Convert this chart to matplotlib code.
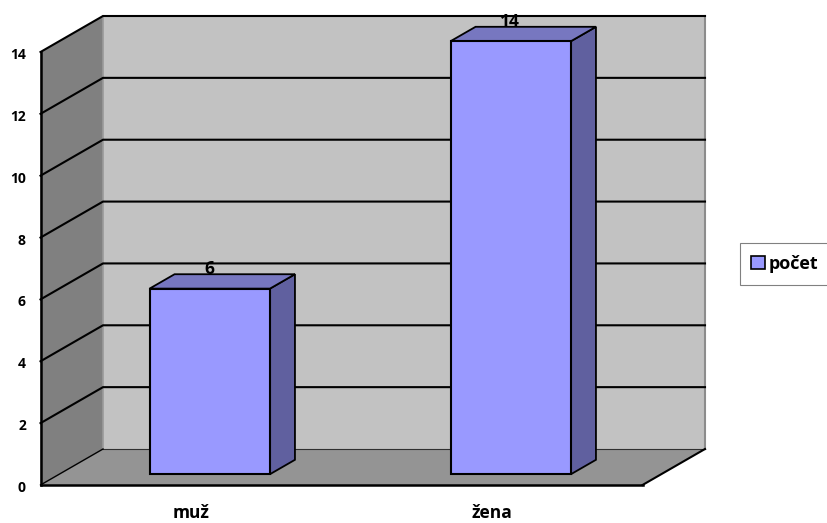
import matplotlib
matplotlib.use('Agg')
import matplotlib.pyplot as plt
from matplotlib.patches import Polygon, Patch
from matplotlib.transforms import ScaledTranslation

categories = ['muž', 'žena']
values = [6, 14]
yticks = [0, 2, 4, 6, 8, 10, 12, 14]
series_name = 'počet'

# hloubka 3D grafu v jednotkach os
DX = 62.5 / 301
DY = 36 / 30.93
XMAX = 2
YMAX = 14
BAR_W = 0.40
D_FRONT = 0.30
D_BACK = 0.70


def project(x, y, d):
    return (x + d * DX, y + d * DY)


def face(ax, pts, color, z, ec='none', lw=0):
    ax.add_patch(Polygon(pts, closed=True, facecolor=color, edgecolor=ec, linewidth=lw,
                         zorder=z, clip_on=False, joinstyle='miter'))


plt.rcParams['font.family'] = ['Open Sans', 'DejaVu Sans']
plt.rcParams['font.weight'] = 'bold'

fig = plt.figure(figsize=(8.27, 5.23), dpi=100)
ax = fig.add_axes([40.5 / 827, 1 - 485 / 523, 602 / 827, 433 / 523])
ax.set_xlim(0, XMAX)
ax.set_ylim(0, YMAX)
ax.patch.set_visible(False)

# zadni stena, bocni stena, podlaha
face(ax, [project(0, 0, 1), project(XMAX, 0, 1), project(XMAX, YMAX, 1), project(0, YMAX, 1)], '#c2c2c2', 1)
face(ax, [project(0, 0, 0), project(0, 0, 1), project(0, YMAX, 1), project(0, YMAX, 0)], '#808080', 1)
face(ax, [project(0, 0, 0), project(XMAX, 0, 0), project(XMAX, 0, 1), project(0, 0, 1)], '#949494', 1)

# okraje sten
bx, by = zip(project(XMAX, 0, 1), project(XMAX, YMAX, 1))
ax.plot(bx, by, color='#8c8c8c', lw=1.5, zorder=1.5, clip_on=False)
bx, by = zip(project(0, 0, 1), project(0, YMAX, 1))
ax.plot(bx, by, color='#9a9a9a', lw=1.2, zorder=1.5, clip_on=False)

# mrizka
for t in yticks[1:]:
    gx, gy = zip(project(0, t, 0), project(0, t, 1), project(XMAX, t, 1))
    ax.plot(gx, gy, color='black', lw=1.5, zorder=2, clip_on=False, solid_joinstyle='miter')
gx, gy = zip(project(0, 0, 1), project(XMAX, 0, 1))
ax.plot(gx, gy, color='#303030', lw=0.8, zorder=2, clip_on=False)
for px in (0, XMAX):
    gx, gy = zip(project(px, 0, 0), project(px, 0, 1))
    ax.plot(gx, gy, color='black', lw=1.0 if px == 0 else 1.5, zorder=2, clip_on=False)

# sloupce
positions = [i + 0.5 for i in range(len(categories))]
for i, (p, v) in enumerate(zip(positions, values)):
    z = 3 + i
    x0 = p - BAR_W / 2
    x1 = p + BAR_W / 2
    fx0, base = project(x0, 0, D_FRONT)
    fx1, top = project(x1, v, D_FRONT)
    ax.bar(fx0, v, width=fx1 - fx0, bottom=base, align='edge', color='#9999ff',
           edgecolor='black', linewidth=1.5, zorder=z + 0.2, clip_on=False)
    face(ax, [project(x1, 0, D_FRONT), project(x1, 0, D_BACK), project(x1, v, D_BACK), project(x1, v, D_FRONT)],
         '#60609f', z, 'black', 1.3)
    face(ax, [project(x0, v, D_FRONT), project(x1, v, D_FRONT), project(x1, v, D_BACK), project(x0, v, D_BACK)],
         '#7777c0', z, 'black', 1.3)
    lx, ly = project(p, v, D_FRONT)
    ax.text(lx - 0.003, ly + 0.63, str(v), ha='center', va='center',
            fontsize=12.5, fontweight='bold', color='black', zorder=10)

ax.set_yticks(yticks)
ax.set_xticks(positions)
ax.set_xticklabels(categories)
ax.tick_params(axis='both', length=0)
ax.tick_params(axis='y', pad=10.5, labelsize=10)
ax.tick_params(axis='x', pad=14, labelsize=12.5)
# popisky osy y sedi o trochu niz nez mrizka
shift = ScaledTranslation(0, -1.5 / 100, fig.dpi_scale_trans)
for lab in ax.get_yticklabels():
    lab.set_transform(lab.get_transform() + shift)
for s in ['top', 'right']:
    ax.spines[s].set_visible(False)
for s in ['left', 'bottom']:
    ax.spines[s].set_linewidth(1.8)
    ax.spines[s].set_zorder(2.5)

handle = Patch(facecolor='#9999ff', edgecolor='black', linewidth=1.2, label=series_name)
leg = fig.legend(handles=[handle], loc='center left', bbox_to_anchor=(739.5 / 827, 1 - 264 / 523),
                 fontsize=13, frameon=True, fancybox=False, edgecolor='#808080', framealpha=1,
                 handlelength=0.75, handleheight=0.75, handletextpad=0.2, borderpad=0.65, borderaxespad=0)
leg.get_frame().set_linewidth(0.8)

fig.savefig('out.png', dpi=100)
